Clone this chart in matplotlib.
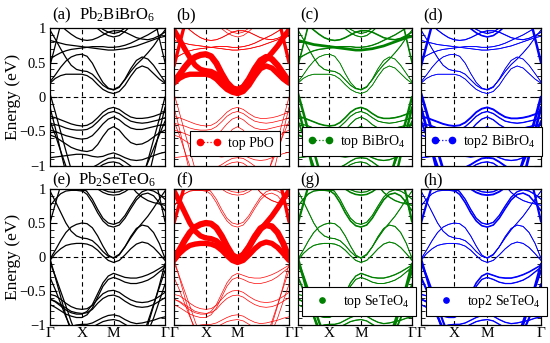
import numpy as np
import matplotlib
matplotlib.use("Agg")
import matplotlib.pyplot as plt
from matplotlib.lines import Line2D
from matplotlib.ticker import MultipleLocator

plt.rcParams['font.family'] = ['Liberation Serif', 'DejaVu Serif']
plt.rcParams['mathtext.fontset'] = 'custom'
plt.rcParams['mathtext.rm'] = 'Liberation Serif'
plt.rcParams['mathtext.it'] = 'Liberation Serif:italic'

# ---------------- data ----------------
k_labels = ['Γ', 'X', 'M', 'Γ']
k_nodes = [0.0, 1.0, 2.0, 3.62]
n_seg = [6, 6, 9]

titles = ['Pb$_2$BiBrO$_6$', 'Pb$_2$SeTeO$_6$']
panel_tags = [['(a)', '(b)', '(c)', '(d)'], ['(e)', '(f)', '(g)', '(h)']]
legend_labels = [[None, 'top PbO', 'top BiBrO$_4$', 'top2 BiBrO$_4$'],
                 [None, None, 'top SeTeO$_4$', 'top2 SeTeO$_4$']]
colors = ['black', '#ff0000', '#008000', '#0000ff']

# Row 1: Pb2BiBrO6 bands (energies at 22 k-points)
bb_c1 = [0.20, 0.27, 0.31, 0.33, 0.33, 0.33, 0.33, 0.31, 0.26, 0.18, 0.11, 0.07, 0.05, 0.08, 0.17, 0.30, 0.41, 0.45, 0.42, 0.34, 0.26, 0.20]
bb_c2 = [0.22, 0.32, 0.43, 0.52, 0.58, 0.61, 0.62, 0.59, 0.49, 0.34, 0.21, 0.13, 0.10, 0.14, 0.26, 0.41, 0.53, 0.58, 0.55, 0.46, 0.34, 0.22]
bb_c3 = [0.97, 0.84, 0.70, 0.57, 0.46, 0.40, 0.38, 0.37, 0.33, 0.25, 0.17, 0.12, 0.11, 0.15, 0.25, 0.37, 0.47, 0.55, 0.64, 0.74, 0.86, 0.97]
bb_c4 = [0.55, 0.60, 0.64, 0.67, 0.69, 0.70, 0.71, 0.72, 0.73, 0.73, 0.73, 0.72, 0.72, 0.73, 0.75, 0.78, 0.82, 0.86, 0.90, 0.95, 1.00, 1.05]
bb_c5 = [0.82, 0.80, 0.78, 0.76, 0.75, 0.74, 0.73, 0.72, 0.71, 0.70, 0.69, 0.68, 0.68, 0.69, 0.70, 0.72, 0.74, 0.77, 0.80, 0.83, 0.86, 0.88]
bb_c6 = [1.50, 1.45, 1.40, 1.34, 1.28, 1.22, 1.17, 1.12, 1.06, 0.99, 0.93, 0.89, 0.87, 0.89, 0.95, 1.03, 1.10, 1.17, 1.23, 1.28, 1.33, 1.38]
bb_c7 = [1.55, 1.50, 1.45, 1.39, 1.33, 1.27, 1.22, 1.17, 1.11, 1.04, 0.98, 0.94, 0.92, 0.94, 1.00, 1.08, 1.15, 1.22, 1.28, 1.33, 1.38, 1.43]
bb_c8 = [1.20, 1.12, 1.04, 0.97, 0.91, 0.86, 0.83, 0.82, 0.83, 0.86, 0.90, 0.94, 0.96, 0.96, 0.94, 0.90, 0.86, 0.84, 0.83, 0.85, 0.89, 0.94]
bb_s1 = [0.45, 0.75, 1.05, 1.35, 1.50, 1.60, 1.60, 1.60, 1.60, 1.60, 1.60, 1.60, 1.60, 1.60, 1.60, 1.60, 1.60, 1.60, 1.50, 1.20, 0.85, 0.50]
bb_s2 = [0.05, -0.22, -0.50, -0.78, -1.05, -1.30, -1.40, -1.45, -1.45, -1.45, -1.45, -1.45, -1.45, -1.45, -1.45, -1.45, -1.40, -1.20, -0.92, -0.62, -0.32, 0.00]
bb_s3 = [-0.15, -0.45, -0.78, -1.10, -1.35, -1.45, -1.50, -1.50, -1.50, -1.50, -1.50, -1.50, -1.50, -1.50, -1.50, -1.50, -1.50, -1.45, -1.20, -0.85, -0.50, -0.15]
bb_s4 = [-0.35, -0.55, -0.78, -1.00, -1.20, -1.35, -1.40, -1.40, -1.40, -1.40, -1.40, -1.40, -1.40, -1.40, -1.40, -1.40, -1.30, -1.15, -0.95, -0.75, -0.55, -0.35]
bb_v1 = [-0.28, -0.30, -0.33, -0.36, -0.39, -0.41, -0.42, -0.41, -0.37, -0.30, -0.22, -0.17, -0.15, -0.18, -0.24, -0.29, -0.31, -0.31, -0.30, -0.28, -0.25, -0.22]
bb_v2 = [-0.38, -0.40, -0.42, -0.45, -0.47, -0.48, -0.48, -0.47, -0.43, -0.36, -0.28, -0.23, -0.21, -0.24, -0.30, -0.35, -0.37, -0.38, -0.37, -0.35, -0.33, -0.30]
bb_v3 = [-0.48, -0.50, -0.53, -0.56, -0.58, -0.60, -0.61, -0.60, -0.56, -0.48, -0.39, -0.32, -0.29, -0.33, -0.40, -0.45, -0.47, -0.47, -0.45, -0.43, -0.41, -0.40]
bb_v4 = [-0.55, -0.58, -0.63, -0.68, -0.73, -0.76, -0.78, -0.79, -0.77, -0.69, -0.57, -0.47, -0.43, -0.48, -0.58, -0.66, -0.69, -0.68, -0.64, -0.58, -0.52, -0.48]
bb_v5 = [-0.88, -0.87, -0.86, -0.85, -0.84, -0.83, -0.83, -0.84, -0.86, -0.87, -0.86, -0.83, -0.81, -0.84, -0.88, -0.91, -0.92, -0.91, -0.88, -0.85, -0.82, -0.80]
bb_v6 = [-1.30, -1.25, -1.20, -1.15, -1.10, -1.06, -1.04, -1.03, -1.02, -0.98, -0.93, -0.89, -0.88, -0.89, -0.94, -1.00, -1.05, -1.08, -1.10, -1.10, -1.08, -1.05]
bb_v7 = [-1.40, -1.35, -1.30, -1.25, -1.20, -1.15, -1.12, -1.10, -1.08, -1.03, -0.98, -0.95, -0.94, -0.96, -1.02, -1.08, -1.12, -1.15, -1.18, -1.20, -1.20, -1.20]

bb_bands = [bb_c1, bb_c2, bb_c3, bb_c4, bb_c5, bb_c6, bb_c7, bb_c8, bb_s1,
            bb_s2, bb_s3, bb_s4, bb_v1, bb_v2, bb_v3, bb_v4, bb_v5, bb_v6, bb_v7]
# projection weights per band (order as bb_bands)
bb_w_PbO    = [0.85, 1.0, 0.85, 0.05, 0.05, 0.03, 0.03, 0.05, 0.5, 0.02, 0.02, 0.02, 0.02, 0.02, 0.02, 0.02, 0.02, 0.02, 0.02]
bb_w_BiBrO4 = [0.05, 0.05, 0.10, 0.15, 0.40, 0.10, 0.08, 0.20, 0.20, 0.35, 0.35, 0.20, 0.20, 0.10, 0.10, 0.25, 0.15, 0.15, 0.10]
bb_w_top2   = [0.05, 0.05, 0.08, 0.08, 0.08, 0.20, 0.12, 0.12, 0.35, 0.40, 0.40, 0.30, 0.25, 0.15, 0.15, 0.15, 0.15, 0.25, 0.15]

# Row 2: Pb2SeTeO6 bands
st_c1 = [-0.05, 0.05, 0.12, 0.17, 0.19, 0.20, 0.20, 0.19, 0.16, 0.10, 0.02, -0.05, -0.08, -0.05, 0.03, 0.12, 0.19, 0.22, 0.20, 0.14, 0.05, -0.05]
st_c2 = [-0.03, 0.10, 0.24, 0.36, 0.44, 0.48, 0.50, 0.49, 0.43, 0.31, 0.16, 0.03, -0.02, 0.03, 0.15, 0.30, 0.42, 0.47, 0.45, 0.36, 0.20, -0.02]
st_c3 = [0.97, 0.82, 0.66, 0.50, 0.38, 0.31, 0.28, 0.27, 0.24, 0.17, 0.08, 0.01, -0.01, 0.04, 0.15, 0.28, 0.40, 0.50, 0.60, 0.72, 0.85, 0.97]
st_c4 = [1.30, 1.25, 1.18, 1.10, 1.04, 1.00, 0.98, 0.92, 0.80, 0.65, 0.53, 0.46, 0.44, 0.47, 0.57, 0.71, 0.84, 0.92, 0.94, 0.90, 0.80, 0.68]
st_c5 = [1.35, 1.30, 1.24, 1.16, 1.10, 1.05, 1.02, 0.96, 0.85, 0.70, 0.57, 0.50, 0.48, 0.51, 0.61, 0.75, 0.88, 0.96, 0.99, 0.97, 0.92, 0.85]
st_c6 = [1.60, 1.55, 1.50, 1.45, 1.38, 1.30, 1.22, 1.15, 1.07, 1.00, 0.95, 0.92, 0.91, 0.92, 0.96, 1.02, 1.10, 1.18, 1.25, 1.30, 1.35, 1.40]
st_c7 = [1.65, 1.60, 1.55, 1.50, 1.42, 1.34, 1.26, 1.19, 1.11, 1.04, 0.99, 0.96, 0.95, 0.96, 1.00, 1.06, 1.14, 1.22, 1.29, 1.34, 1.39, 1.44]
st_c8 = [0.75, 0.85, 0.93, 0.97, 0.98, 0.98, 0.97, 0.99, 1.05, 1.12, 1.18, 1.22, 1.24, 1.22, 1.15, 1.05, 0.95, 0.88, 0.83, 0.80, 0.78, 0.76]
st_s1 = [0.50, 0.78, 1.05, 1.35, 1.50, 1.60, 1.60, 1.60, 1.60, 1.60, 1.60, 1.60, 1.60, 1.60, 1.60, 1.60, 1.60, 1.60, 1.50, 1.25, 0.90, 0.52]
st_s2 = [-0.02, -0.30, -0.58, -0.86, -1.10, -1.30, -1.40, -1.45, -1.45, -1.45, -1.45, -1.45, -1.45, -1.45, -1.45, -1.45, -1.40, -1.25, -1.00, -0.72, -0.42, -0.10]
st_s3 = [-0.08, -0.28, -0.50, -0.72, -0.95, -1.15, -1.30, -1.35, -1.35, -1.35, -1.35, -1.35, -1.35, -1.35, -1.35, -1.35, -1.35, -1.20, -0.95, -0.70, -0.45, -0.20]
st_s4 = [-0.30, -0.48, -0.68, -0.88, -1.05, -1.20, -1.30, -1.30, -1.30, -1.30, -1.30, -1.30, -1.30, -1.30, -1.30, -1.30, -1.30, -1.25, -1.10, -0.90, -0.65, -0.40]
st_v1 = [-0.62, -0.66, -0.72, -0.78, -0.82, -0.84, -0.84, -0.80, -0.70, -0.54, -0.38, -0.28, -0.24, -0.27, -0.30, -0.31, -0.31, -0.29, -0.26, -0.22, -0.17, -0.12]
st_v2 = [-0.70, -0.74, -0.79, -0.84, -0.87, -0.89, -0.89, -0.85, -0.75, -0.59, -0.43, -0.33, -0.30, -0.33, -0.37, -0.39, -0.39, -0.37, -0.34, -0.29, -0.22, -0.15]
st_v3 = [-0.55, -0.57, -0.62, -0.68, -0.73, -0.76, -0.77, -0.76, -0.71, -0.62, -0.54, -0.50, -0.49, -0.52, -0.58, -0.63, -0.66, -0.67, -0.66, -0.63, -0.58, -0.52]
st_v4 = [-0.62, -0.65, -0.70, -0.75, -0.80, -0.82, -0.83, -0.82, -0.77, -0.68, -0.61, -0.57, -0.56, -0.59, -0.65, -0.70, -0.73, -0.74, -0.73, -0.70, -0.65, -0.60]
st_v5 = [-1.10, -1.08, -1.06, -1.04, -1.02, -1.00, -0.99, -0.99, -0.97, -0.93, -0.89, -0.86, -0.85, -0.87, -0.92, -0.96, -0.98, -0.97, -0.95, -0.93, -0.90, -0.88]
st_v6 = [-1.35, -1.30, -1.25, -1.20, -1.15, -1.10, -1.07, -1.05, -1.03, -0.99, -0.95, -0.93, -0.92, -0.94, -0.99, -1.04, -1.08, -1.10, -1.12, -1.12, -1.10, -1.08]

st_bands = [st_c1, st_c2, st_c3, st_c4, st_c5, st_c6, st_c7, st_c8, st_s1,
            st_s2, st_s3, st_s4, st_v1, st_v2, st_v3, st_v4, st_v5, st_v6]
st_w_PbO    = [0.85, 1.0, 0.85, 0.04, 0.04, 0.03, 0.03, 0.05, 0.5, 0.02, 0.02, 0.02, 0.02, 0.02, 0.02, 0.02, 0.02, 0.02]
st_w_SeTeO4 = [0.10, 0.10, 0.10, 0.20, 0.10, 0.20, 0.10, 0.15, 0.30, 0.35, 0.35, 0.25, 0.15, 0.10, 0.10, 0.10, 0.15, 0.15]
st_w_top2   = [0.08, 0.08, 0.08, 0.20, 0.15, 0.25, 0.15, 0.10, 0.30, 0.30, 0.30, 0.30, 0.20, 0.15, 0.15, 0.15, 0.15, 0.15]

rows = [
    (bb_bands, [None, bb_w_PbO, bb_w_BiBrO4, bb_w_top2]),
    (st_bands, [None, st_w_PbO, st_w_SeTeO4, st_w_top2]),
]

# ---------------- figure ----------------
W, H = 550, 343
fig = plt.figure(figsize=(5.5, 3.43), dpi=100)

col_px = [(50, 165), (174, 289), (298, 412), (421, 541)]
row_px = [(28, 166), (189, 325)]

kpath = np.concatenate([
    np.linspace(k_nodes[i], k_nodes[i + 1], n_seg[i] + 1)[:-1] for i in range(3)
] + [np.array([k_nodes[-1]])])

legend_pos = [[None, (190, 156), (302, 156), (425, 156)],
              [None, None, (302, 316), (426, 316)]]

for r, (bands, weights) in enumerate(rows):
    for c in range(4):
        x0, x1 = col_px[c]
        y0, y1 = row_px[r]
        ax = fig.add_axes([x0 / W, 1 - y1 / H, (x1 - x0) / W, (y1 - y0) / H])
        col = colors[c]
        for b, e in enumerate(bands):
            if c == 0:
                ax.plot(kpath, e, color='black', lw=0.9, zorder=3)
            else:
                w = weights[c][b]
                ax.plot(kpath, e, color=col, lw=0.5, zorder=3)
                if w > 0.04:
                    ax.plot(kpath, e, color=col, lw=0.3 + 4.2 * w,
                            solid_joinstyle='round', solid_capstyle='round', zorder=3)
        for kn in k_nodes[1:3]:
            ax.axvline(kn, color='black', ls=(0, (4, 3)), lw=0.8, zorder=2)
        ax.axhline(0, color='black', ls=(0, (4, 3)), lw=0.8, zorder=2)
        ax.set_xlim(k_nodes[0], k_nodes[-1])
        ax.set_ylim(-1, 1)
        ax.yaxis.set_major_locator(MultipleLocator(0.5))
        ax.yaxis.set_minor_locator(MultipleLocator(0.1))
        ax.tick_params(axis='y', which='both', direction='in', left=True, right=True)
        ax.tick_params(axis='y', which='major', length=5, width=0.8)
        ax.tick_params(axis='y', which='minor', length=3, width=0.6)
        ax.set_xticks(k_nodes)
        ax.tick_params(axis='x', length=0, pad=1.5)
        if r == 1:
            ax.set_xticklabels(k_labels, fontsize=11)
        else:
            ax.set_xticklabels([])
        if c == 0:
            ax.set_yticks([-1, -0.5, 0, 0.5, 1])
            ax.set_yticklabels(['−1', '−0.5', '0', '0.5', '1'], fontsize=10.5)
            ax.tick_params(axis='y', pad=3)
        else:
            ax.set_yticklabels([])
        for sp in ax.spines.values():
            sp.set_linewidth(0.9)
            sp.set_zorder(5)

        lab = legend_labels[r][c]
        if lab is not None:
            if r == 0:
                h = Line2D([0], [0], color=col, marker='o', ms=4.5, ls=':', lw=0.9)
                npts = 2
                hl = 1.8
            else:
                h = Line2D([0], [0], color=col, marker='o', ms=3.8, ls='none')
                npts = 1
                hl = 2.0
            lx, ly = legend_pos[r][c]
            ax0 = (lx - x0) / (x1 - x0)
            ay0 = (y1 - ly) / (y1 - y0)
            leg = ax.legend([h], [lab], loc='lower left', bbox_to_anchor=(ax0, ay0),
                            borderaxespad=0, numpoints=npts, handlelength=hl,
                            fontsize=10, frameon=True, fancybox=False,
                            framealpha=1, edgecolor='black', borderpad=0.45,
                            handletextpad=0.5)
            leg.get_frame().set_linewidth(0.8)
            leg.set_zorder(10)

        tag_y = 15 if r == 0 else 180
        fig.text((x0 + 2) / W, 1 - tag_y / H, panel_tags[r][c], fontsize=12,
                 ha='left', va='center')
    fig.text(117 / W, 1 - (15 if r == 0 else 180) / H, titles[r], fontsize=12,
             ha='center', va='center')
    yc = (row_px[r][0] + row_px[r][1]) / 2
    fig.text(13 / W, 1 - yc / H, 'Energy (eV)', fontsize=12.5, rotation=90,
             ha='center', va='center')

fig.savefig('out.png', dpi=100)
